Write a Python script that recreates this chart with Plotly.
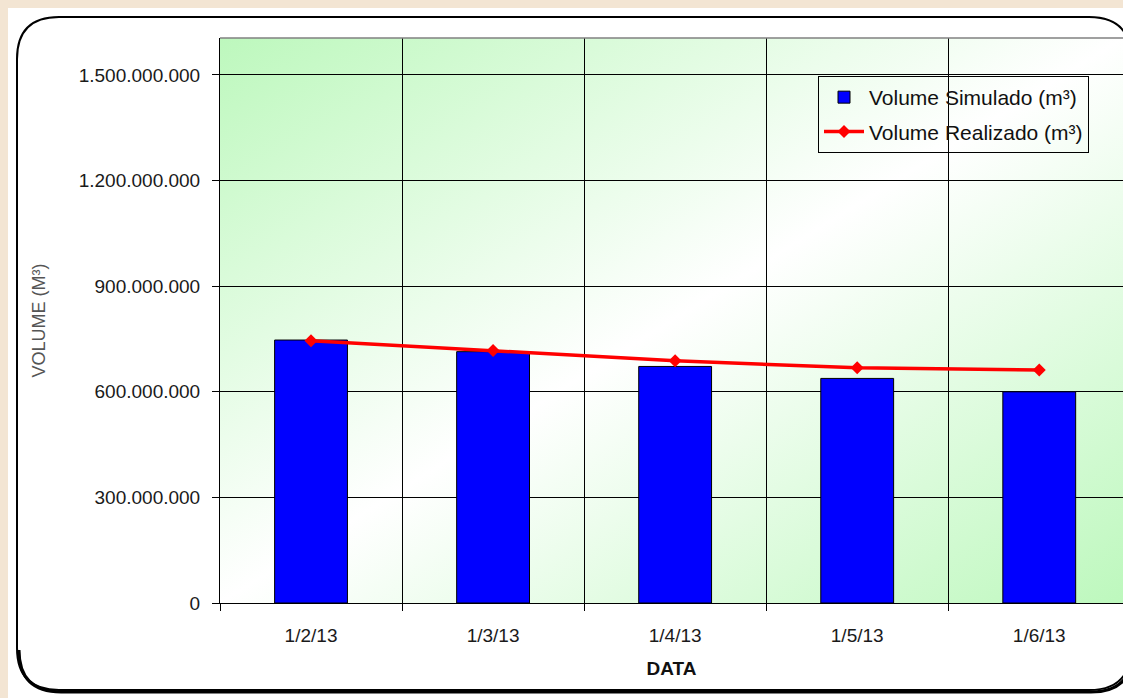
import base64
import plotly.graph_objects as go

# ---- data ----
categories = ["1/2/13", "1/3/13", "1/4/13", "1/5/13", "1/6/13"]
volume_simulado = [747e6, 714e6, 672e6, 638e6, 600e6]
volume_realizado = [745e6, 717e6, 688e6, 668e6, 662e6]
y_ticks = [0, 300e6, 600e6, 900e6, 1200e6, 1500e6]

# ---- layout geometry (pixels) ----
W, H = 1123, 698
PL, PR, PT, PB = 220, 1123, 38, 603  # plot area edges


def px(x):
    return (x - PL) / (PR - PL)


def py(y):
    return (PB - y) / (PB - PT)


FONT = "Liberation Sans, Arial, sans-serif"

fig = go.Figure()
fig.add_trace(go.Bar(
    x=categories, y=volume_simulado, name="Volume Simulado (m³)",
    marker=dict(color="#0000FF", line=dict(color="#000000", width=1)),
    width=0.4, legendgroup="a",
))
fig.add_trace(go.Scatter(
    x=categories, y=volume_realizado, name="Volume Realizado (m³)",
    mode="lines+markers",
    line=dict(color="#FF0000", width=3.5),
    marker=dict(symbol="diamond", size=10, color="#FF0000"),
    legendgroup="b",
))

# gradient background for plot area (svg data uri)
svg = (
    '<svg xmlns="http://www.w3.org/2000/svg" width="100" height="100" '
    'viewBox="0 0 100 100" preserveAspectRatio="none">'
    '<defs><linearGradient id="g" x1="0" y1="0" x2="1" y2="1">'
    '<stop offset="0" stop-color="#BDF8BD"/>'
    '<stop offset="0.5" stop-color="#FFFFFF"/>'
    '<stop offset="1" stop-color="#BDF8BD"/>'
    '</linearGradient></defs>'
    '<rect x="0" y="0" width="100" height="100" fill="url(#g)"/></svg>'
)
svg_uri = "data:image/svg+xml;base64," + base64.b64encode(svg.encode()).decode()

shapes = []
beige = "#F3E5D3"
shapes.append(dict(type="rect", xref="paper", yref="paper", x0=px(0), x1=px(W), y0=py(0), y1=py(8),
                   fillcolor=beige, line=dict(width=0), layer="below"))
shapes.append(dict(type="rect", xref="paper", yref="paper", x0=px(0), x1=px(8), y0=py(0), y1=py(H),
                   fillcolor=beige, line=dict(width=0), layer="below"))


def rounded_path(l, t, r, b, rad):
    pts = [
        f"M {px(l)},{py(t + rad)}",
        f"Q {px(l)},{py(t)} {px(l + rad)},{py(t)}",
        f"L {px(r - rad)},{py(t)}",
        f"Q {px(r)},{py(t)} {px(r)},{py(t + rad)}",
        f"L {px(r)},{py(b - rad)}",
        f"Q {px(r)},{py(b)} {px(r - rad)},{py(b)}",
        f"L {px(l + rad)},{py(b)}",
        f"Q {px(l)},{py(b)} {px(l)},{py(b - rad)}",
        "Z",
    ]
    return " ".join(pts)


def shadow_path(l, r, b, rad):
    pts = [
        f"M {px(l)},{py(b - rad)}",
        f"Q {px(l)},{py(b)} {px(l + rad)},{py(b)}",
        f"L {px(r - rad)},{py(b)}",
        f"Q {px(r)},{py(b)} {px(r)},{py(b - rad)}",
    ]
    return " ".join(pts)


shapes.append(dict(type="path", xref="paper", yref="paper",
                   path=rounded_path(17, 17, 1131, 690, 42),
                   line=dict(color="#000000", width=2), layer="above"))
shapes.append(dict(type="path", xref="paper", yref="paper",
                   path=shadow_path(19, 1133, 692, 42),
                   line=dict(color="#000000", width=3), layer="above"))
shapes.append(dict(type="line", xref="paper", yref="paper", x0=0, x1=1, y0=1, y1=1,
                   line=dict(color="#808080", width=1.5), layer="above"))

TICKF = dict(family=FONT, size=19, color="#1A1A1A")

fig.update_layout(
    width=W, height=H,
    margin=dict(l=PL, r=W - PR, t=PT, b=H - PB, pad=0),
    paper_bgcolor="#FFFFFF",
    plot_bgcolor="#FFFFFF",
    separators=",.",
    font=dict(family=FONT, size=19, color="#1A1A1A"),
    showlegend=True,
    legend=dict(
        x=px(818), y=py(76), xanchor="left", yanchor="top",
        bgcolor="rgba(0,0,0,0)", bordercolor="#000000", borderwidth=1,
        font=dict(family=FONT, size=21, color="#111111"),
        traceorder="grouped", tracegroupgap=4, itemwidth=40,
    ),
    images=[dict(source=svg_uri, xref="paper", yref="paper", x=0, y=1,
                 sizex=1, sizey=1, xanchor="left", yanchor="top",
                 sizing="stretch", layer="below")],
    shapes=shapes,
    xaxis=dict(
        type="category", range=[-0.5, 4.46],
        tickson="boundaries", ticks="outside", ticklen=7, tickcolor="#000000",
        showgrid=True, gridcolor="#000000", gridwidth=1,
        showline=True, linecolor="#000000", linewidth=1,
        tickfont=TICKF,
        ticklabelstandoff=15,
        title=dict(text="<b>DATA</b>", font=dict(family=FONT, size=19, color="#111111"), standoff=16),
    ),
    yaxis=dict(
        range=[0, 1.605e9], tickvals=y_ticks, tickformat=",d",
        ticks="outside", ticklen=7, tickcolor="#000000",
        showgrid=True, gridcolor="#000000", gridwidth=1,
        showline=True, linecolor="#000000", linewidth=1,
        zeroline=False,
        tickfont=TICKF,
        ticklabelstandoff=8,
        title=dict(text="VOLUME (M³)", font=dict(family=FONT, size=18, color="#555555"), standoff=28),
    ),
    bargap=0.6,
)

fig.write_html("out.html", config={"displayModeBar": False},
               post_script="document.body.style.margin='0px';")
